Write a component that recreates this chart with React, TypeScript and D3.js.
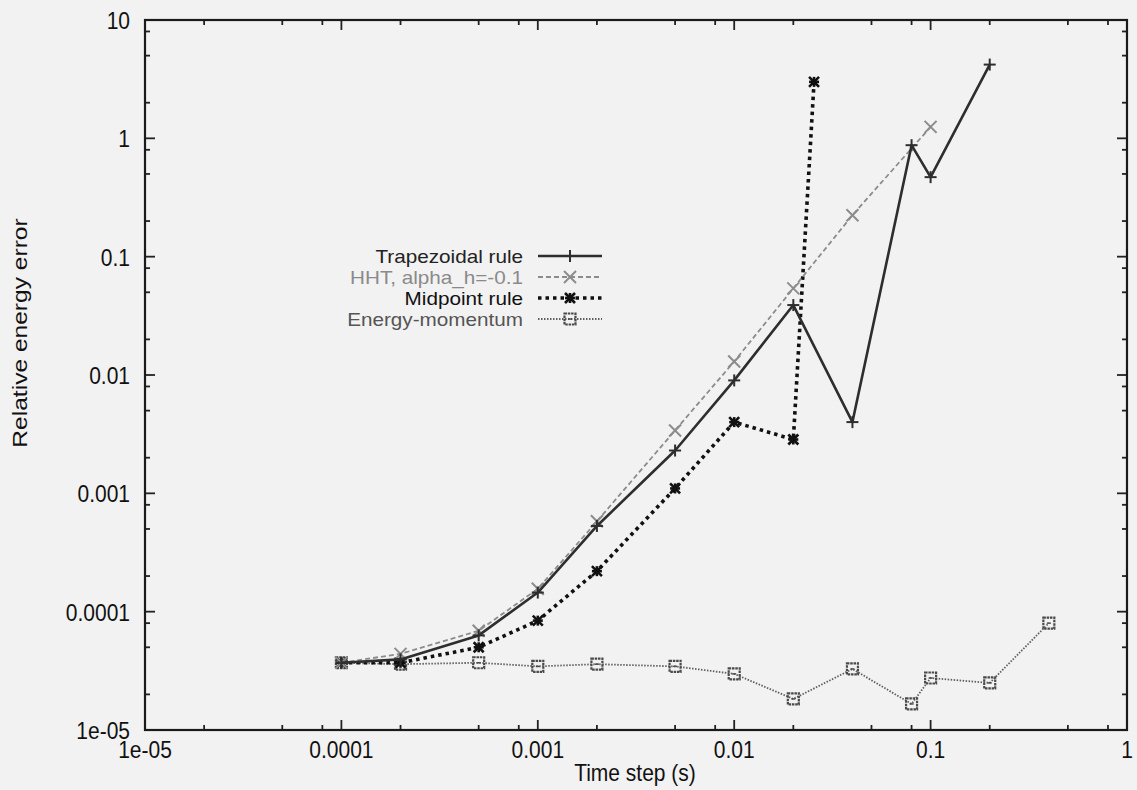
import React from "react";
import * as d3 from "d3";

const W = 1137;
const H = 790;

// Data
const trapX = [1e-4, 2e-4, 5e-4, 1e-3, 2e-3, 5e-3, 1e-2, 2e-2, 4e-2, 8e-2, 0.1, 0.2];
const trapY = [3.7e-5, 3.95e-5, 6.3e-5, 1.45e-4, 5.3e-4, 2.3e-3, 9.0e-3, 0.039, 0.004, 0.875, 0.47, 4.2];

const hhtX = [1e-4, 2e-4, 5e-4, 1e-3, 2e-3, 5e-3, 1e-2, 2e-2, 4e-2, 0.1];
const hhtY = [3.7e-5, 4.4e-5, 6.9e-5, 1.56e-4, 5.8e-4, 3.4e-3, 0.013, 0.054, 0.224, 1.25];

const midX = [1e-4, 2e-4, 5e-4, 1e-3, 2e-3, 5e-3, 1e-2, 2e-2, 2.55e-2];
const midY = [3.7e-5, 3.7e-5, 5.0e-5, 8.4e-5, 2.2e-4, 1.1e-3, 4.0e-3, 2.85e-3, 3.0];

const emX = [1e-4, 2e-4, 5e-4, 1e-3, 2e-3, 5e-3, 1e-2, 2e-2, 4e-2, 8e-2, 0.1, 0.2, 0.4];
const emY = [3.7e-5, 3.6e-5, 3.7e-5, 3.45e-5, 3.6e-5, 3.45e-5, 2.98e-5, 1.83e-5, 3.28e-5, 1.66e-5, 2.75e-5, 2.5e-5, 8.0e-5];

const xTickValues = [1e-5, 1e-4, 1e-3, 1e-2, 0.1, 1];
const xTickLabels = ["1e-05", "0.0001", "0.001", "0.01", "0.1", "1"];
const yTickValues = [1e-5, 1e-4, 1e-3, 1e-2, 0.1, 1, 10];
const yTickLabels = ["1e-05", "0.0001", "0.001", "0.01", "0.1", "1", "10"];
const minorMultipliers = [2, 5, 8];

const legendNames = ["Trapezoidal rule", "HHT, alpha_h=-0.1", "Midpoint rule", "Energy-momentum"];

const FONT = "'Liberation Sans', Arial, Helvetica, sans-serif";
const FS = 21;
const SY = 1.17;

const L = 145, R = 1127, T = 20, B = 730;

const x = d3.scaleLog().domain([1e-5, 1]).range([L, R]);
const y = d3.scaleLog().domain([1e-5, 10]).range([B, T]);

type Pt = [number, number];
const zip = (xs: number[], ys: number[]): Pt[] => xs.map((v, i) => [v, ys[i]]);
const line = d3.line<Pt>().x((d) => x(d[0])).y((d) => y(d[1]));

function Plus({ cx, cy, s, color, w }: any) {
  return (
    <g stroke={color} strokeWidth={w}>
      <line x1={cx - s} x2={cx + s} y1={cy} y2={cy} />
      <line x1={cx} x2={cx} y1={cy - s} y2={cy + s} />
    </g>
  );
}
function Cross({ cx, cy, s, color, w }: any) {
  return (
    <g stroke={color} strokeWidth={w}>
      <line x1={cx - s} x2={cx + s} y1={cy - s} y2={cy + s} />
      <line x1={cx - s} x2={cx + s} y1={cy + s} y2={cy - s} />
    </g>
  );
}
function Star({ cx, cy, s, color, w }: any) {
  return (
    <g stroke={color} strokeWidth={w}>
      <line x1={cx - s} x2={cx + s} y1={cy - s} y2={cy + s} />
      <line x1={cx - s} x2={cx + s} y1={cy + s} y2={cy - s} />
      <line x1={cx - s} x2={cx + s} y1={cy} y2={cy} />
      <line x1={cx} x2={cx} y1={cy - s} y2={cy + s} />
    </g>
  );
}
function Square({ cx, cy, s, color, w }: any) {
  return (
    <g>
      <rect x={cx - s} y={cy - s} width={2 * s} height={2 * s} fill="none" stroke={color} strokeWidth={w} strokeDasharray="2.5,0.8" />
      <line x1={cx - 2} x2={cx + 2} y1={cy} y2={cy} stroke={color} strokeWidth={1.5} />
    </g>
  );
}

function Txt({ tx, ty, anchor, children, color = "#111", rot = false, sy = SY, sx = 1, fs = FS }: any) {
  const tr = rot
    ? `translate(${tx},${ty}) rotate(-90) scale(${sy},1)`
    : `translate(${tx},${ty}) scale(${sx},${sy})`;
  return (
    <text transform={tr} textAnchor={anchor} fontFamily={FONT} fontSize={fs} fill={color}>
      {children}
    </text>
  );
}

export default function App() {
  const minorX: number[] = [];
  for (let e = -5; e < 0; e++) for (const m of minorMultipliers) minorX.push(m * Math.pow(10, e));
  const minorY: number[] = [];
  for (let e = -5; e < 1; e++) for (const m of minorMultipliers) minorY.push(m * Math.pow(10, e));

  const series = [
    { pts: zip(emX, emY), stroke: "#5e5e5e", width: 1.8, dash: "1.5,1.5", marker: "square", mcolor: "#4a4a4a" },
    { pts: zip(midX, midY), stroke: "#111", width: 3.6, dash: "3.5,4", marker: "star", mcolor: "#111" },
    { pts: zip(hhtX, hhtY), stroke: "#8c8c8c", width: 1.8, dash: "5,3", marker: "cross", mcolor: "#8c8c8c" },
    { pts: zip(trapX, trapY), stroke: "#2e2e2e", width: 2.6, dash: undefined, marker: "plus", mcolor: "#2e2e2e" },
  ];

  const drawMarker = (kind: string, cx: number, cy: number, color: string, key: any) => {
    if (kind === "plus") return <Plus key={key} cx={cx} cy={cy} s={6} color={color} w={2} />;
    if (kind === "cross") return <Cross key={key} cx={cx} cy={cy} s={6} color={color} w={2} />;
    if (kind === "star") return <Star key={key} cx={cx} cy={cy} s={5} color={color} w={2.6} />;
    return <Square key={key} cx={cx} cy={cy} s={5.5} color={color} w={2.2} />;
  };

  const legendRows = [
    { name: legendNames[0], color: "#222", s: series[3] },
    { name: legendNames[1], color: "#8a8a8a", s: series[2] },
    { name: legendNames[2], color: "#111", s: series[1] },
    { name: legendNames[3], color: "#555", s: series[0] },
  ];

  return (
    <svg width={W} height={H} style={{ position: "absolute", left: 0, top: 0, background: "#f2f2f2" }}>
      <rect x={0} y={0} width={W} height={H} fill="#f2f2f2" />

      {/* ticks */}
      <g stroke="#222" strokeWidth={1.8}>
        {xTickValues.map((v, i) => (
          <g key={"xt" + i}>
            <line x1={x(v)} x2={x(v)} y1={B} y2={B - 10} />
            <line x1={x(v)} x2={x(v)} y1={T} y2={T + 10} />
          </g>
        ))}
        {minorX.map((v, i) => (
          <g key={"xm" + i}>
            <line x1={x(v)} x2={x(v)} y1={B} y2={B - 5} />
            <line x1={x(v)} x2={x(v)} y1={T} y2={T + 5} />
          </g>
        ))}
        {yTickValues.map((v, i) => (
          <g key={"yt" + i}>
            <line x1={L} x2={L + 10} y1={y(v)} y2={y(v)} />
            <line x1={R} x2={R - 10} y1={y(v)} y2={y(v)} />
          </g>
        ))}
        {minorY.map((v, i) => (
          <g key={"ym" + i}>
            <line x1={L} x2={L + 5} y1={y(v)} y2={y(v)} />
            <line x1={R} x2={R - 5} y1={y(v)} y2={y(v)} />
          </g>
        ))}
      </g>

      {/* frame */}
      <rect x={L} y={T} width={R - L} height={B - T} fill="none" stroke="#1a1a1a" strokeWidth={2.2} />

      {/* tick labels */}
      {xTickValues.map((v, i) => (
        <Txt key={"xl" + i} tx={x(v)} ty={758} anchor="middle">{xTickLabels[i]}</Txt>
      ))}
      {yTickValues.map((v, i) => (
        <Txt key={"yl" + i} tx={130} ty={y(v) + 9} anchor="end">{yTickLabels[i]}</Txt>
      ))}

      {/* axis titles */}
      <Txt tx={635} ty={781} anchor="middle">Time step (s)</Txt>
      <Txt tx={27} ty={333} anchor="middle" rot>Relative energy error</Txt>

      {/* series */}
      {series.map((s, si) => (
        <g key={"s" + si}>
          <path d={line(s.pts) || ""} fill="none" stroke={s.stroke} strokeWidth={s.width} strokeDasharray={s.dash} strokeLinejoin="round" />
          {s.pts.map((p, pi) => drawMarker(s.marker, x(p[0]), y(p[1]), s.mcolor, pi))}
        </g>
      ))}

      {/* legend */}
      {legendRows.map((r, i) => {
        const cy = 256 + i * 21;
        return (
          <g key={"lg" + i}>
            <Txt tx={523} ty={cy + 6.5} anchor="end" color={r.color} sy={1.0} sx={1.15} fs={18}>{r.name}</Txt>
            <line x1={538} x2={602} y1={cy} y2={cy} stroke={r.s.stroke} strokeWidth={r.s.width} strokeDasharray={r.s.dash} />
            {drawMarker(r.s.marker, 570, cy, r.s.mcolor, "m")}
          </g>
        );
      })}
    </svg>
  );
}
